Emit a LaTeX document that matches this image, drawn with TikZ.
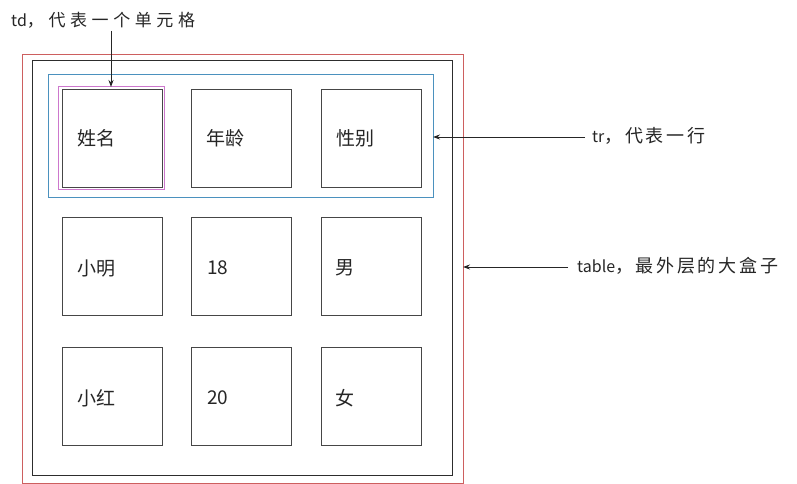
\documentclass[tikz,border=0pt]{standalone}
\usepackage{fontspec}
\setmainfont{Noto Sans CJK SC}
\newfontfamily\labfont[LetterSpace=15]{Noto Sans CJK SC}
\newfontfamily\labfontw[LetterSpace=27]{Noto Sans CJK SC}
\newcommand\widecjk[1]{{\labfont\fontsize{18}{18}\selectfont #1}}
\newcommand\widercjk[1]{{\labfontw\fontsize{17}{17}\selectfont #1}}
\usetikzlibrary{arrows.meta}
\definecolor{tablered}{RGB}{205,95,95}
\definecolor{trblue}{RGB}{75,145,190}
\definecolor{tdpink}{RGB}{205,120,205}
\definecolor{darkline}{RGB}{45,45,45}
\definecolor{cellgray}{RGB}{70,70,70}
\begin{document}
\begin{tikzpicture}[x=1pt,y=-1pt,
  box/.style={inner sep=0pt, outer sep=0pt},
  cellbox/.style={box, draw=cellgray, line width=0.9pt, minimum width=100pt, minimum height=98pt},
  celltext/.style={anchor=west, font=\fontsize{19}{19}\selectfont, text=black!85, inner sep=0pt},
  lab/.style={anchor=west, font=\fontsize{16}{16}\selectfont, text=black!85, inner sep=0pt},
  arr/.style={-{Stealth[length=7pt,width=5pt]}, line width=0.9pt, draw=black!85}]
\fill[white] (0,0) rectangle (797,484);
\useasboundingbox (0,0) rectangle (797,484);
% outer boxes
\node[box, draw=tablered, line width=1pt, minimum width=441pt, minimum height=428pt] (table) at (242.5,269) {};
\node[box, draw=darkline, line width=1pt, minimum width=420pt, minimum height=414pt] (inner) at (242,268) {};
\node[box, draw=trblue, line width=1pt, minimum width=385pt, minimum height=122pt] (tr) at (240.5,136) {};
\node[box, draw=tdpink, line width=1pt, minimum width=106pt, minimum height=102pt] (tdsel) at (111,138) {};
% cells
\node[cellbox] (c11) at (112,138) {};
\node[cellbox] (c12) at (241,138) {};
\node[cellbox] (c13) at (371,138) {};
\node[cellbox] (c21) at (112,266) {};
\node[cellbox] (c22) at (241,266) {};
\node[cellbox] (c23) at (371,266) {};
\node[cellbox] (c31) at (112,396) {};
\node[cellbox] (c32) at (241,396) {};
\node[cellbox] (c33) at (371,396) {};
% cell texts
\node[celltext] (t11) at ([xshift=15pt]c11.west) {姓名};
\node[celltext] (t12) at ([xshift=15pt]c12.west) {年龄};
\node[celltext] (t13) at ([xshift=15pt]c13.west) {性别};
\node[celltext] (t21) at ([xshift=15pt,yshift=-2pt]c21.west) {小明};
\node[celltext] (t22) at ([xshift=16pt,yshift=-2pt]c22.west) {18};
\node[celltext] (t23) at ([xshift=14pt,yshift=-2pt]c23.west) {男};
\node[celltext] (t31) at ([xshift=15pt,yshift=-2pt]c31.west) {小红};
\node[celltext] (t32) at ([xshift=16pt,yshift=-2pt]c32.west) {20};
\node[celltext] (t33) at ([xshift=14pt,yshift=-2pt]c33.west) {女};
% labels
\node[lab] (tdlab) at (11,20) {td\widercjk{，代表一个单元格}};
\node[lab] (trlab) at (592,136) {tr\widecjk{，代表一行}};
\node[lab] (tablab) at (577,266) {table\widecjk{，最外层的大盒子}};
\coordinate (tds) at (111,31);
\coordinate (trs) at (585,137);
\coordinate (tabs) at (568,267);
% arrows
\draw[arr] (tds) -- (tdsel.north);
\draw[arr] (trs) -- (trs -| tr.east);
\draw[arr] (tabs) -- (tabs -| table.east);
\end{tikzpicture}
\end{document}
